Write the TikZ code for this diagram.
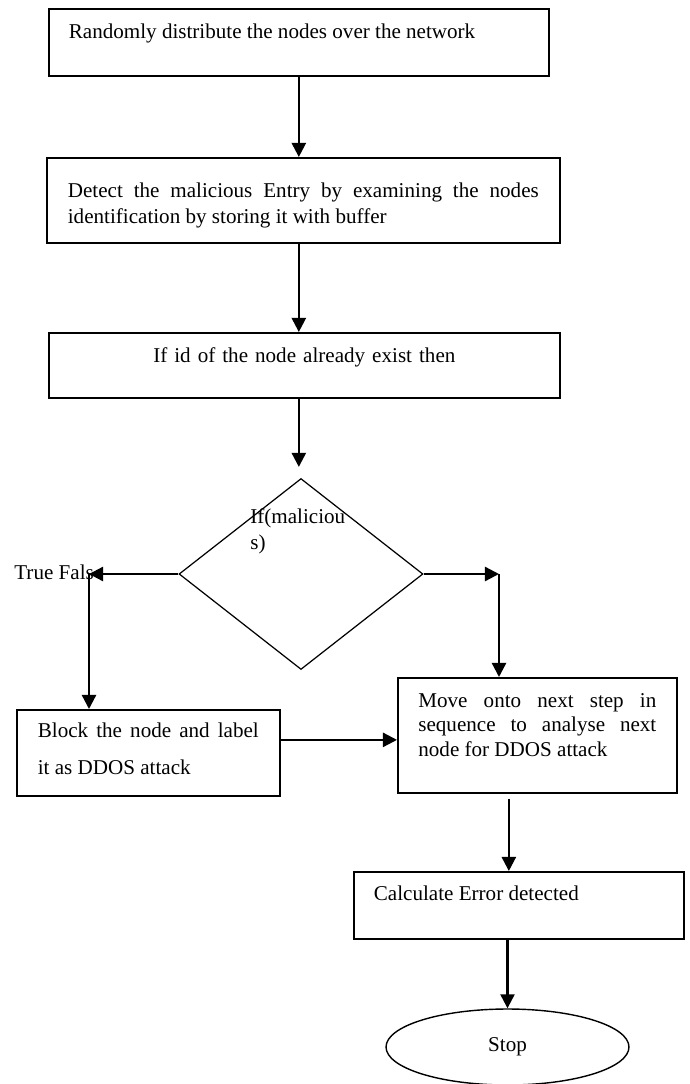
\documentclass[tikz,border=0pt]{standalone}
\usepackage{fontspec}
\setmainfont{Liberation Serif}
\usepackage{tikz}
\usetikzlibrary{positioning, arrows, arrows.meta, shapes.geometric}

\begin{document}
\begin{tikzpicture}[x=0.02cm, y=-0.02cm,
  every node/.style={font=\fontsize{12}{14.5}\selectfont},
  stepbox/.style={draw, line width=1pt, inner ysep=0pt, inner xsep=0.4cm, align=justify},
  arr/.style={-{Triangle[length=8pt,width=8pt]}, line width=1.3pt}]
\useasboundingbox (0,0) rectangle (689,1084);

% Steps
\node[stepbox, anchor=north west, text width=9.2cm, text height=0.6cm, text depth=0.74cm] (dist) at (48,8) {Randomly distribute the nodes over the network};
\node[stepbox, anchor=north west, text width=9.42cm, inner xsep=0.42cm, text height=0.8cm, text depth=0.9cm] (detect) at (46,157) {Detect the malicious Entry by examining the nodes\linebreak identification by storing it with buffer};
\node[stepbox, align=center, anchor=north west, text width=9.42cm, text height=0.6cm, text depth=0.7cm] (exist) at (48,332) {If id of the node already exist then};

% Decision
\node[draw, diamond, line width=0.7pt, minimum width=4.88cm, minimum height=3.82cm, inner sep=0pt] (check) at (301,574) {};
\node[anchor=base west, align=left, inner sep=0pt] (checktxt) at (250,549) {If(maliciou\\s)};
\node[anchor=base west, inner sep=0pt] (tf) at (14,579) {True Fals};
\coordinate (lt) at (89,574);
\coordinate (rt) at (499,574);

% Outcomes
\node[stepbox, anchor=north west, text width=4.42cm, inner xsep=0.42cm, text height=0.56cm, text depth=1.16cm, font=\fontsize{12}{21}\selectfont] (block) at (16,709) {Block the node and label\linebreak it as DDOS attack};
\node[stepbox, anchor=north west, text width=4.76cm, inner xsep=0.41cm, text height=0.6cm, text depth=1.7cm, font=\fontsize{12}{13.7}\selectfont] (move) at (397,677) {Move onto next step in\linebreak sequence to analyse next\linebreak node for DDOS attack};
\node[stepbox, anchor=north west, text width=5.8cm, text height=0.58cm, text depth=0.76cm] (err) at (353,871) {Calculate Error detected};
\node[draw, ellipse, line width=0.8pt, minimum width=4.86cm, minimum height=1.52cm, inner sep=0pt] (stop) at (507.5,1047) {Stop};

% Arrows
\draw[arr] (dist.south) -- (dist.south |- detect.north);
\draw[arr] (dist.south |- detect.south) -- (dist.south |- exist.north);
\draw[arr, shorten >=0.22cm] (dist.south |- exist.south) -- (dist.south |- check.north);
\draw[arr] (check.west) -- (lt);
\draw[arr] (lt) -- (lt |- block.north);
\draw[arr] (check.east) -- (rt);
\draw[arr] (rt) -- (rt |- move.north);
\draw[arr] ([yshift=0.26cm]block.east) -- ([yshift=0.26cm]block.east -| move.west);
\draw[arr, shorten <=0.1cm] ([xshift=-0.2cm]err.north |- move.south) -- ([xshift=-0.2cm]err.north);
\draw[arr] (stop.north |- err.south) -- (stop.north);
\end{tikzpicture}
\end{document}
